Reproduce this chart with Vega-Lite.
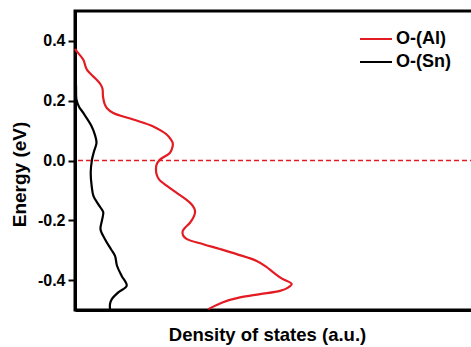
{
  "$schema": "https://vega.github.io/schema/vega-lite/v6.json",
  "autosize": {"type": "none"},
  "padding": {"left": 75, "top": 11, "right": 0, "bottom": 37},
  "width": 400,
  "height": 299,
  "config": {"view": {"stroke": "black", "strokeWidth": 3}, "font": "Liberation Sans"},
  "datasets": {
    "dos": [
      {"series": "O-(Al)", "energy": 0.373, "dos": 0},
      {"series": "O-(Al)", "energy": 0.36, "dos": 3},
      {"series": "O-(Al)", "energy": 0.337, "dos": 8.3},
      {"series": "O-(Al)", "energy": 0.315, "dos": 10.5},
      {"series": "O-(Al)", "energy": 0.303, "dos": 12},
      {"series": "O-(Al)", "energy": 0.285, "dos": 17},
      {"series": "O-(Al)", "energy": 0.27, "dos": 21.7},
      {"series": "O-(Al)", "energy": 0.255, "dos": 25.5},
      {"series": "O-(Al)", "energy": 0.24, "dos": 27.5},
      {"series": "O-(Al)", "energy": 0.214, "dos": 28},
      {"series": "O-(Al)", "energy": 0.19, "dos": 29.5},
      {"series": "O-(Al)", "energy": 0.175, "dos": 32},
      {"series": "O-(Al)", "energy": 0.159, "dos": 38.3},
      {"series": "O-(Al)", "energy": 0.137, "dos": 58.3},
      {"series": "O-(Al)", "energy": 0.114, "dos": 78.3},
      {"series": "O-(Al)", "energy": 0.1, "dos": 86},
      {"series": "O-(Al)", "energy": 0.087, "dos": 91.7},
      {"series": "O-(Al)", "energy": 0.07, "dos": 96},
      {"series": "O-(Al)", "energy": 0.059, "dos": 97.7},
      {"series": "O-(Al)", "energy": 0.045, "dos": 97.5},
      {"series": "O-(Al)", "energy": 0.026, "dos": 95},
      {"series": "O-(Al)", "energy": 0.01, "dos": 88},
      {"series": "O-(Al)", "energy": 0.003, "dos": 85},
      {"series": "O-(Al)", "energy": -0.015, "dos": 81.5},
      {"series": "O-(Al)", "energy": -0.03, "dos": 81},
      {"series": "O-(Al)", "energy": -0.045, "dos": 81.5},
      {"series": "O-(Al)", "energy": -0.063, "dos": 84},
      {"series": "O-(Al)", "energy": -0.085, "dos": 92},
      {"series": "O-(Al)", "energy": -0.108, "dos": 101.7},
      {"series": "O-(Al)", "energy": -0.13, "dos": 111},
      {"series": "O-(Al)", "energy": -0.147, "dos": 116.7},
      {"series": "O-(Al)", "energy": -0.162, "dos": 119.5},
      {"series": "O-(Al)", "energy": -0.174, "dos": 120},
      {"series": "O-(Al)", "energy": -0.19, "dos": 118.5},
      {"series": "O-(Al)", "energy": -0.208, "dos": 115},
      {"series": "O-(Al)", "energy": -0.225, "dos": 110},
      {"series": "O-(Al)", "energy": -0.236, "dos": 107.7},
      {"series": "O-(Al)", "energy": -0.25, "dos": 108},
      {"series": "O-(Al)", "energy": -0.262, "dos": 111.5},
      {"series": "O-(Al)", "energy": -0.28, "dos": 128.3},
      {"series": "O-(Al)", "energy": -0.296, "dos": 145},
      {"series": "O-(Al)", "energy": -0.313, "dos": 161.7},
      {"series": "O-(Al)", "energy": -0.336, "dos": 181.7},
      {"series": "O-(Al)", "energy": -0.355, "dos": 191},
      {"series": "O-(Al)", "energy": -0.374, "dos": 198.3},
      {"series": "O-(Al)", "energy": -0.395, "dos": 207},
      {"series": "O-(Al)", "energy": -0.413, "dos": 216.7},
      {"series": "O-(Al)", "energy": -0.425, "dos": 213},
      {"series": "O-(Al)", "energy": -0.436, "dos": 205},
      {"series": "O-(Al)", "energy": -0.447, "dos": 185},
      {"series": "O-(Al)", "energy": -0.458, "dos": 165},
      {"series": "O-(Al)", "energy": -0.474, "dos": 148},
      {"series": "O-(Al)", "energy": -0.497, "dos": 133.3},
      {"series": "O-(Sn)", "energy": 0.314, "dos": 0},
      {"series": "O-(Sn)", "energy": 0.25, "dos": 1},
      {"series": "O-(Sn)", "energy": 0.203, "dos": 1.5},
      {"series": "O-(Sn)", "energy": 0.18, "dos": 4},
      {"series": "O-(Sn)", "energy": 0.159, "dos": 8.3},
      {"series": "O-(Sn)", "energy": 0.114, "dos": 16.7},
      {"series": "O-(Sn)", "energy": 0.085, "dos": 20},
      {"series": "O-(Sn)", "energy": 0.059, "dos": 21.5},
      {"series": "O-(Sn)", "energy": 0.03, "dos": 19},
      {"series": "O-(Sn)", "energy": 0.003, "dos": 17},
      {"series": "O-(Sn)", "energy": -0.041, "dos": 15.7},
      {"series": "O-(Sn)", "energy": -0.086, "dos": 16.7},
      {"series": "O-(Sn)", "energy": -0.119, "dos": 18.5},
      {"series": "O-(Sn)", "energy": -0.145, "dos": 23},
      {"series": "O-(Sn)", "energy": -0.163, "dos": 26.7},
      {"series": "O-(Sn)", "energy": -0.174, "dos": 28.3},
      {"series": "O-(Sn)", "energy": -0.2, "dos": 27},
      {"series": "O-(Sn)", "energy": -0.23, "dos": 25.5},
      {"series": "O-(Sn)", "energy": -0.263, "dos": 30},
      {"series": "O-(Sn)", "energy": -0.297, "dos": 36},
      {"series": "O-(Sn)", "energy": -0.319, "dos": 40},
      {"series": "O-(Sn)", "energy": -0.352, "dos": 42},
      {"series": "O-(Sn)", "energy": -0.386, "dos": 46.7},
      {"series": "O-(Sn)", "energy": -0.419, "dos": 51.7},
      {"series": "O-(Sn)", "energy": -0.441, "dos": 43.3},
      {"series": "O-(Sn)", "energy": -0.463, "dos": 37},
      {"series": "O-(Sn)", "energy": -0.48, "dos": 35},
      {"series": "O-(Sn)", "energy": -0.497, "dos": 35}
    ]
  },
  "layer": [
    {
      "data": {"name": "dos"},
      "mark": {"type": "line", "strokeWidth": 2.2, "interpolate": "catmull-rom"},
      "encoding": {
        "x": {
          "field": "dos", "type": "quantitative",
          "scale": {"domain": [0, 400], "nice": false, "zero": false},
          "axis": {
            "ticks": false, "labels": false, "grid": false,
            "domainColor": "black", "domainWidth": 3,
            "title": "Density of states (a.u.)",
            "titleFont": "Liberation Sans", "titleFontSize": 18.5, "titleFontWeight": "bold", "titleColor": "black",
            "titleX": 192, "titleY": 30, "titleAlign": "center", "titleBaseline": "alphabetic"
          }
        },
        "y": {
          "field": "energy", "type": "quantitative",
          "scale": {"domain": [-0.5, 0.5], "nice": false, "zero": false},
          "axis": {
            "values": [-0.4, -0.3, -0.2, -0.1, 0, 0.1, 0.2, 0.3, 0.4],
            "labelExpr": "abs(round(datum.value*10)) % 2 == 1 ? '' : (datum.value < 0 ? '-' + format(abs(datum.value), '.1f') : format(datum.value, '.1f'))",
            "tickSize": {"condition": {"test": "abs(round(datum.value*10)) % 2 == 1", "value": 4}, "value": 7},
            "tickWidth": 2, "tickColor": "black",
            "domainColor": "black", "domainWidth": 3, "grid": false,
            "labelFont": "Liberation Sans", "labelFontWeight": "bold", "labelFontSize": 16, "labelColor": "black",
            "labelPadding": 3,
            "title": "Energy (eV)",
            "titleFont": "Liberation Sans", "titleFontSize": 19, "titleFontWeight": "bold", "titleColor": "black",
            "titleX": -55.5, "titleY": 163, "titleAngle": -90, "titleAlign": "center", "titleBaseline": "middle"
          }
        },
        "color": {
          "field": "series", "type": "nominal",
          "scale": {"domain": ["O-(Al)", "O-(Sn)"], "range": ["#e31b23", "#000000"]},
          "legend": {
            "orient": "none", "legendX": 284, "legendY": 18, "title": null,
            "symbolType": "stroke", "symbolSize": 1024, "symbolStrokeWidth": 2,
            "labelFont": "Liberation Sans", "labelFontSize": 18, "labelFontWeight": "bold", "labelColor": "black",
            "labelOffset": 3, "clipHeight": 20, "rowPadding": 3, "padding": 0
          }
        },
        "order": {"field": "energy", "type": "quantitative", "sort": "descending"}
      }
    },
    {
      "data": {"values": [{}]},
      "mark": {"type": "rule", "color": "#e31b23", "strokeDash": [5, 3], "strokeWidth": 1.5},
      "encoding": {"y": {"datum": 0}}
    }
  ]
}
